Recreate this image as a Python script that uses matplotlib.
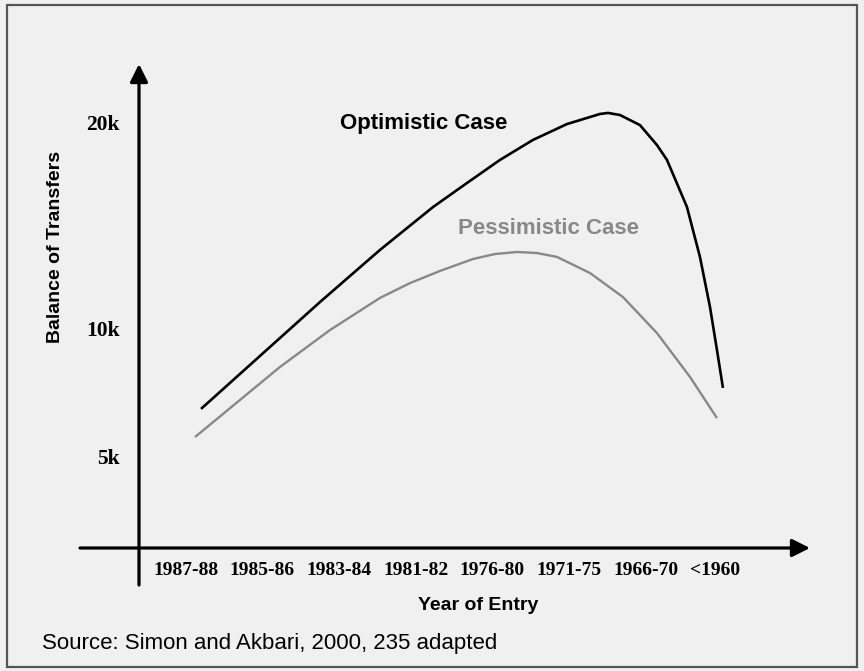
import numpy as np
import matplotlib
matplotlib.use("Agg")
import matplotlib.pyplot as plt
from matplotlib.patches import Rectangle

# categories on the x axis (index 0..7)
periods = ["1987-88", "1985-86", "1983-84", "1981-82", "1976-80", "1971-75", "1966-70", "<1960"]

# curves: position in category units, balance in thousands
opt_x = [0.196, 0.965, 1.747, 2.529, 3.220, 3.664, 4.094, 4.524, 4.967, 5.398, 5.502, 5.658,
         5.919, 6.141, 6.271, 6.532, 6.701, 6.832, 6.923, 7.001]
opt_y = [6.84, 8.91, 11.26, 13.79, 15.87, 17.04, 18.16, 19.13, 19.90, 20.39, 20.44, 20.34,
         19.85, 18.88, 18.16, 15.87, 13.45, 11.02, 9.14, 7.66]
pes_x = [0.117, 1.226, 1.877, 2.529, 2.920, 3.312, 3.742, 4.029, 4.316, 4.576, 4.837, 5.267,
         5.698, 6.141, 6.571, 6.923]
pes_y = [5.74, 8.48, 9.92, 11.46, 12.18, 12.77, 13.35, 13.59, 13.69, 13.64, 13.45, 12.67,
         11.50, 9.80, 8.09, 6.48]

ytick_vals = [5, 10, 20]
ytick_labels = ["5k", "10k", "20k"]

# the original axis is not linear: spacing between 5k-10k and 10k-20k differs
knots_k = [0, 5, 10, 20, 30]
knots_t = [87, 215, 343, 549, 755]


def fwd(v):
    return np.interp(v, knots_k, knots_t)


def inv(t):
    return np.interp(t, knots_t, knots_k)


W, H = 864, 671
bg = "#f0f0f0"
fig = plt.figure(figsize=(W / 100, H / 100), dpi=100, facecolor=bg)

# axes box in pixels: left=139, right=810, top=64, bottom=548
ax = fig.add_axes([139 / W, 1 - 548 / H, (810 - 139) / W, (548 - 64) / H])
ax.set_facecolor(bg)
ax.set_yscale("function", functions=(fwd, inv))
ax.set_xlim(-0.613, 8.136)
ax.set_ylim(inv(123), inv(607))
for s in ax.spines.values():
    s.set_visible(False)

ax.plot(opt_x, opt_y, color="black", lw=1.9, solid_capstyle="butt", solid_joinstyle="round")
ax.plot(pes_x, pes_y, color="#888888", lw=1.7, solid_capstyle="butt", solid_joinstyle="round")

ax.text(3.10, 19.95, "Optimistic Case", ha="center", va="center", fontsize=16,
        fontweight="bold", family="Liberation Sans", color="black")
ax.text(4.73, 14.81, "Pessimistic Case", ha="center", va="center", fontsize=16,
        fontweight="bold", family="Liberation Sans", color="#888888")

# axis arrows
arrow = dict(arrowstyle="-|>,head_length=0.6,head_width=0.3", lw=2.3, color="black",
             mutation_scale=18, shrinkA=0, shrinkB=0)
ax.annotate("", xy=(1, 0), xytext=(-59 / 671, 0), xycoords="axes fraction",
            textcoords="axes fraction", arrowprops=arrow, annotation_clip=False)
ax.annotate("", xy=(0, 1), xytext=(0, -37 / 484), xycoords="axes fraction",
            textcoords="axes fraction", arrowprops=arrow, annotation_clip=False)

# labels in the original are spaced evenly by their left edge
ax.set_xticks(np.arange(len(periods)) - 0.43)
ax.set_xticklabels(periods, family="Liberation Serif", fontweight="bold", fontsize=14, ha="left")
ax.set_yticks(ytick_vals)
ax.set_yticklabels(ytick_labels, family="Liberation Serif", fontweight="bold", fontsize=15.5)
ax.yaxis.set_minor_locator(plt.NullLocator())
ax.tick_params(axis="x", length=0, pad=10)
ax.tick_params(axis="y", length=0, pad=14)

fig.text(55 / W, 1 - 247 / H, "Balance of Transfers", rotation=90, ha="center", va="center",
         fontsize=14, fontweight="bold", family="Liberation Sans")
fig.text(478 / W, 1 - 605 / H, "Year of Entry", ha="center", va="center",
         fontsize=14, fontweight="bold", family="Liberation Sans")
fig.text(42 / W, 1 - 643 / H, "Source: Simon and Akbari, 2000, 235 adapted", ha="left",
         va="center", fontsize=16, family="Liberation Sans")

# frame around the whole picture
fig.patches.append(Rectangle((7 / W, 1 - 667 / H), (857 - 7) / W, (667 - 5) / H,
                             transform=fig.transFigure, fill=False, edgecolor="#555555", lw=1.6))

fig.savefig("out.png", dpi=100, facecolor=bg)
